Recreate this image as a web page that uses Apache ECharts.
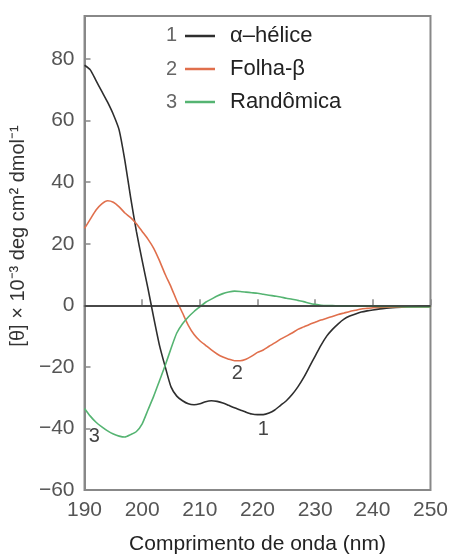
<!DOCTYPE html>
<html>
<head>
<meta charset="utf-8">
<script src="https://cdn.jsdelivr.net/npm/echarts@6/dist/echarts.min.js"></script>
<style>
  html, body { margin: 0; padding: 0; background: #fff; }
  #chart { width: 451px; height: 560px; }
</style>
</head>
<body>
<div id="chart"></div>
<script>
// comprimento de onda (nm)
var wavelength = [190, 191, 192, 193, 194, 195, 196, 197, 198, 199,
  200, 201, 202, 203, 204, 205, 206, 207, 208, 209,
  210, 211, 212, 213, 214, 215, 216, 217, 218, 219,
  220, 221, 222, 223, 224, 225, 226, 227, 228, 229,
  230, 231, 232, 233, 234, 235, 236, 237, 238, 239,
  240, 242, 244, 246, 248, 250]

// 1 - alfa-helice
var helice = [78, 76.5, 73, 69.5, 66, 62, 57, 47, 35, 24,
  14.5, 5.5, -4, -13, -20, -26.5, -29.5, -31, -32, -32.3,
  -32, -31.3, -31, -31.2, -31.7, -32.5, -33.3, -34, -34.7, -35.3,
  -35.5, -35.5, -35, -34, -32.5, -31, -29, -26.5, -23.5, -20,
  -16.5, -13, -10, -7.8, -6, -4.5, -3.5, -2.8, -2.2, -1.8,
  -1.5, -1, -0.7, -0.5, -0.4, -0.4]

// 2 - folha-beta
var folha = [25, 28, 31, 33, 34, 33.5, 32, 30, 28.5, 26.5,
  24, 21.5, 18.5, 14.5, 10, 6, 1.5, -2.5, -6.5, -9.5,
  -11.5, -13, -14.5, -15.8, -16.8, -17.5, -18, -18, -17.5, -16.5,
  -15.3, -14.5, -13.3, -12.2, -11, -10, -9, -7.8, -7, -6.2,
  -5.5, -4.8, -4.2, -3.6, -3, -2.5, -2, -1.6, -1.2, -1,
  -0.8, -0.6, -0.5, -0.5, -0.5, -0.5]

// 3 - randomica
var randomica = [-33.5, -36, -38, -39.5, -40.8, -41.8, -42.5, -42.8, -42, -41,
  -38.5, -34, -29.5, -24.5, -19.5, -14, -9, -6, -3.8, -2,
  -0.5, 1, 2, 3, 3.8, 4.3, 4.6, 4.5, 4.3, 4.1,
  3.9, 3.6, 3.3, 3, 2.7, 2.3, 2, 1.6, 1.2, 0.7,
  0.3, 0, -0.1, -0.1, -0.2, -0.2, -0.2, -0.3, -0.3, -0.3,
  -0.3, -0.4, -0.4, -0.5, -0.5, -0.5]

var seriesNames = ['α–hélice', 'Folha-β', 'Randômica']
var seriesColors = ['#2e2e2e', '#e06f4c', '#55b472']
// onde ficam os numeros 1, 2, 3 junto das curvas [nm, valor]
var curveTags = [[221.0, -40.5], [216.5, -22], [191.7, -42.5]]

var fontFamily = '"Liberation Sans", Arial, sans-serif'

function pairs (ys) {
  return wavelength.map(function (x, i) { return [x, ys[i]] })
}

function tagPoint (i) {
  return {
    silent: true,
    symbol: 'rect',
    symbolSize: 1,
    itemStyle: { color: 'rgba(0,0,0,0)' },
    label: {
      show: true,
      position: 'inside',
      formatter: String(i + 1),
      fontSize: 20,
      color: '#444',
      fontFamily: fontFamily
    },
    data: [{ coord: curveTags[i] }]
  }
}

var seriesList = [helice, folha, randomica].map(function (ys, i) {
  return {
    name: seriesNames[i],
    type: 'line',
    data: pairs(ys),
    showSymbol: false,
    smooth: 0.2,
    lineStyle: { color: seriesColors[i], width: 1.6 },
    itemStyle: { color: seriesColors[i] },
    markPoint: tagPoint(i),
    z: 3
  }
})

// linha do zero
seriesList[0].markLine = {
  silent: true,
  symbol: 'none',
  label: { show: false },
  lineStyle: { color: '#333', width: 1.5, type: 'solid' },
  data: [{ yAxis: 0 }]
}

var option = {
  backgroundColor: '#fff',
  animation: false,
  grid: {
    left: 80,
    right: 18,
    top: 16,
    bottom: 66,
    show: true,
    borderColor: '#888',
    borderWidth: 2
  },
  legend: {
    orient: 'vertical',
    left: 180,
    top: 20,
    itemGap: 11,
    itemWidth: 30,
    itemHeight: 2.5,
    icon: 'rect',
    textStyle: {
      fontSize: 22,
      color: '#222',
      fontFamily: fontFamily,
      padding: [0, 0, 0, 10]
    },
    data: seriesNames
  },
  graphic: [1, 2, 3].map(function (n, i) {
    return {
      type: 'text',
      left: 166,
      top: [25, 59, 92][i],
      style: { text: String(n), fontSize: 20, fill: '#666', fontFamily: fontFamily }
    }
  }),
  xAxis: {
    type: 'value',
    min: 190,
    max: 250,
    interval: 10,
    name: 'Comprimento de onda (nm)',
    nameLocation: 'middle',
    nameGap: 44,
    nameTextStyle: { fontSize: 21, color: '#222', fontFamily: fontFamily },
    axisLine: { lineStyle: { color: '#888', width: 2 } },
    axisTick: { inside: true, length: 6, lineStyle: { color: '#888', width: 1.5 } },
    axisLabel: { fontSize: 21, color: '#555', margin: 10, fontFamily: fontFamily },
    splitLine: { show: false }
  },
  yAxis: {
    type: 'value',
    min: -60,
    max: 94,
    interval: 20,
    name: '[θ] × 10⁻³ deg cm² dmol⁻¹',
    nameLocation: 'middle',
    nameGap: 50,
    nameTextStyle: { fontSize: 20, color: '#333', fontFamily: fontFamily, padding: [0, 0, 0, 34] },
    axisLine: { lineStyle: { color: '#888', width: 2 } },
    axisTick: { inside: true, length: 6, lineStyle: { color: '#888', width: 1.5 } },
    axisLabel: {
      fontSize: 21,
      color: '#555',
      margin: 10,
      fontFamily: fontFamily,
      formatter: function (v) { return v % 20 === 0 ? String(v).replace('-', '−') : '' }
    },
    splitLine: { show: false }
  },
  series: seriesList
}

var myChart = echarts.init(document.getElementById('chart'))
myChart.setOption(option)
</script>
</body>
</html>
